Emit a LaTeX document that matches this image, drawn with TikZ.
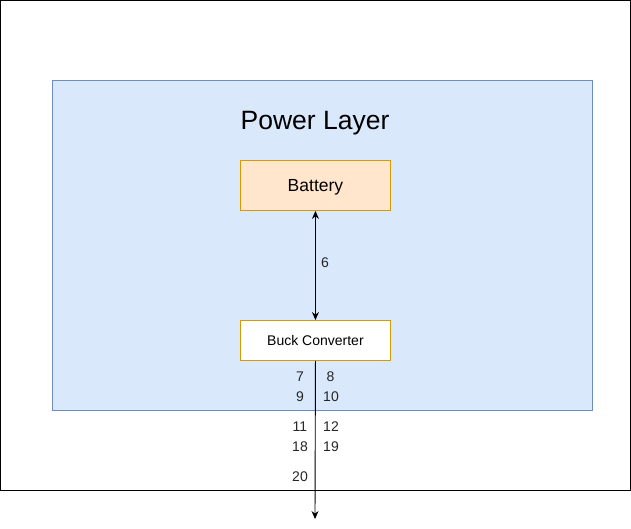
\documentclass[tikz,border=0pt]{standalone}
\usepackage{fontspec}
\setmainfont{Liberation Sans}
\usetikzlibrary{arrows.meta}
\definecolor{layerfill}{HTML}{DAE8FC}
\definecolor{layerdraw}{HTML}{6C8EBF}
\definecolor{batfill}{HTML}{FFE6CC}
\definecolor{orangedraw}{HTML}{D79B00}
\tikzset{
  box/.style={draw=orangedraw, line width=0.9pt, minimum width=150pt, inner sep=0pt, anchor=north west},
  lbl/.style={font=\fontsize{14}{16}\selectfont, text=black!85, inner sep=0pt, anchor=base},
  tip/.tip={Stealth[length=8pt,width=7pt]},
  conn/.style={line width=0.9pt, -tip},
}
\begin{document}
\begin{tikzpicture}[x=1pt,y=-1pt]
\useasboundingbox (0,0) rectangle (631,529);
\fill[white] (0,0) rectangle (631,529);
\node[draw=black, line width=0.9pt, minimum width=630pt, minimum height=490pt, inner sep=0pt, anchor=north west] (outer) at (0,0) {};
\node[draw=layerdraw, fill=layerfill, line width=0.9pt, minimum width=540pt, minimum height=330pt, inner sep=0pt, anchor=north west] (layer) at (52,80) {};
\node[font=\fontsize{26.5}{30}\selectfont, inner sep=0pt, anchor=base] (title) at (315,129.5) {Power Layer};
\node[box, fill=batfill, minimum height=50pt] (bat) at (240,160) {};
\node[font=\fontsize{17.5}{20}\selectfont, inner sep=0pt, anchor=base] (battxt) at (bat.center) [yshift=-6.3pt] {Battery};
\node[box, fill=white, minimum height=40pt] (buck) at (240,320) {};
\node[lbl, text=black] (bucktxt) at (buck.center) [yshift=-5pt] {Buck Converter};
\coordinate (end) at (315,519);
\draw[conn, tip-tip] (bat.south) -- (buck.north);
\draw[conn] (buck.south) -- (end);
\node[lbl] (l6) at (325,267) {6};
\node[lbl] (l7) at (300,381) {7};
\node[lbl] (l8) at (330.5,381) {8};
\node[lbl] (l9) at (300,401) {9};
\node[lbl] (l10) at (331,401) {10};
\node[lbl] (l11) at (300,431) {11};
\node[lbl] (l12) at (331,431) {12};
\node[lbl] (l18) at (300,451) {18};
\node[lbl] (l19) at (331,451) {19};
\node[lbl] (l20) at (300,481) {20};
\end{tikzpicture}
\end{document}
